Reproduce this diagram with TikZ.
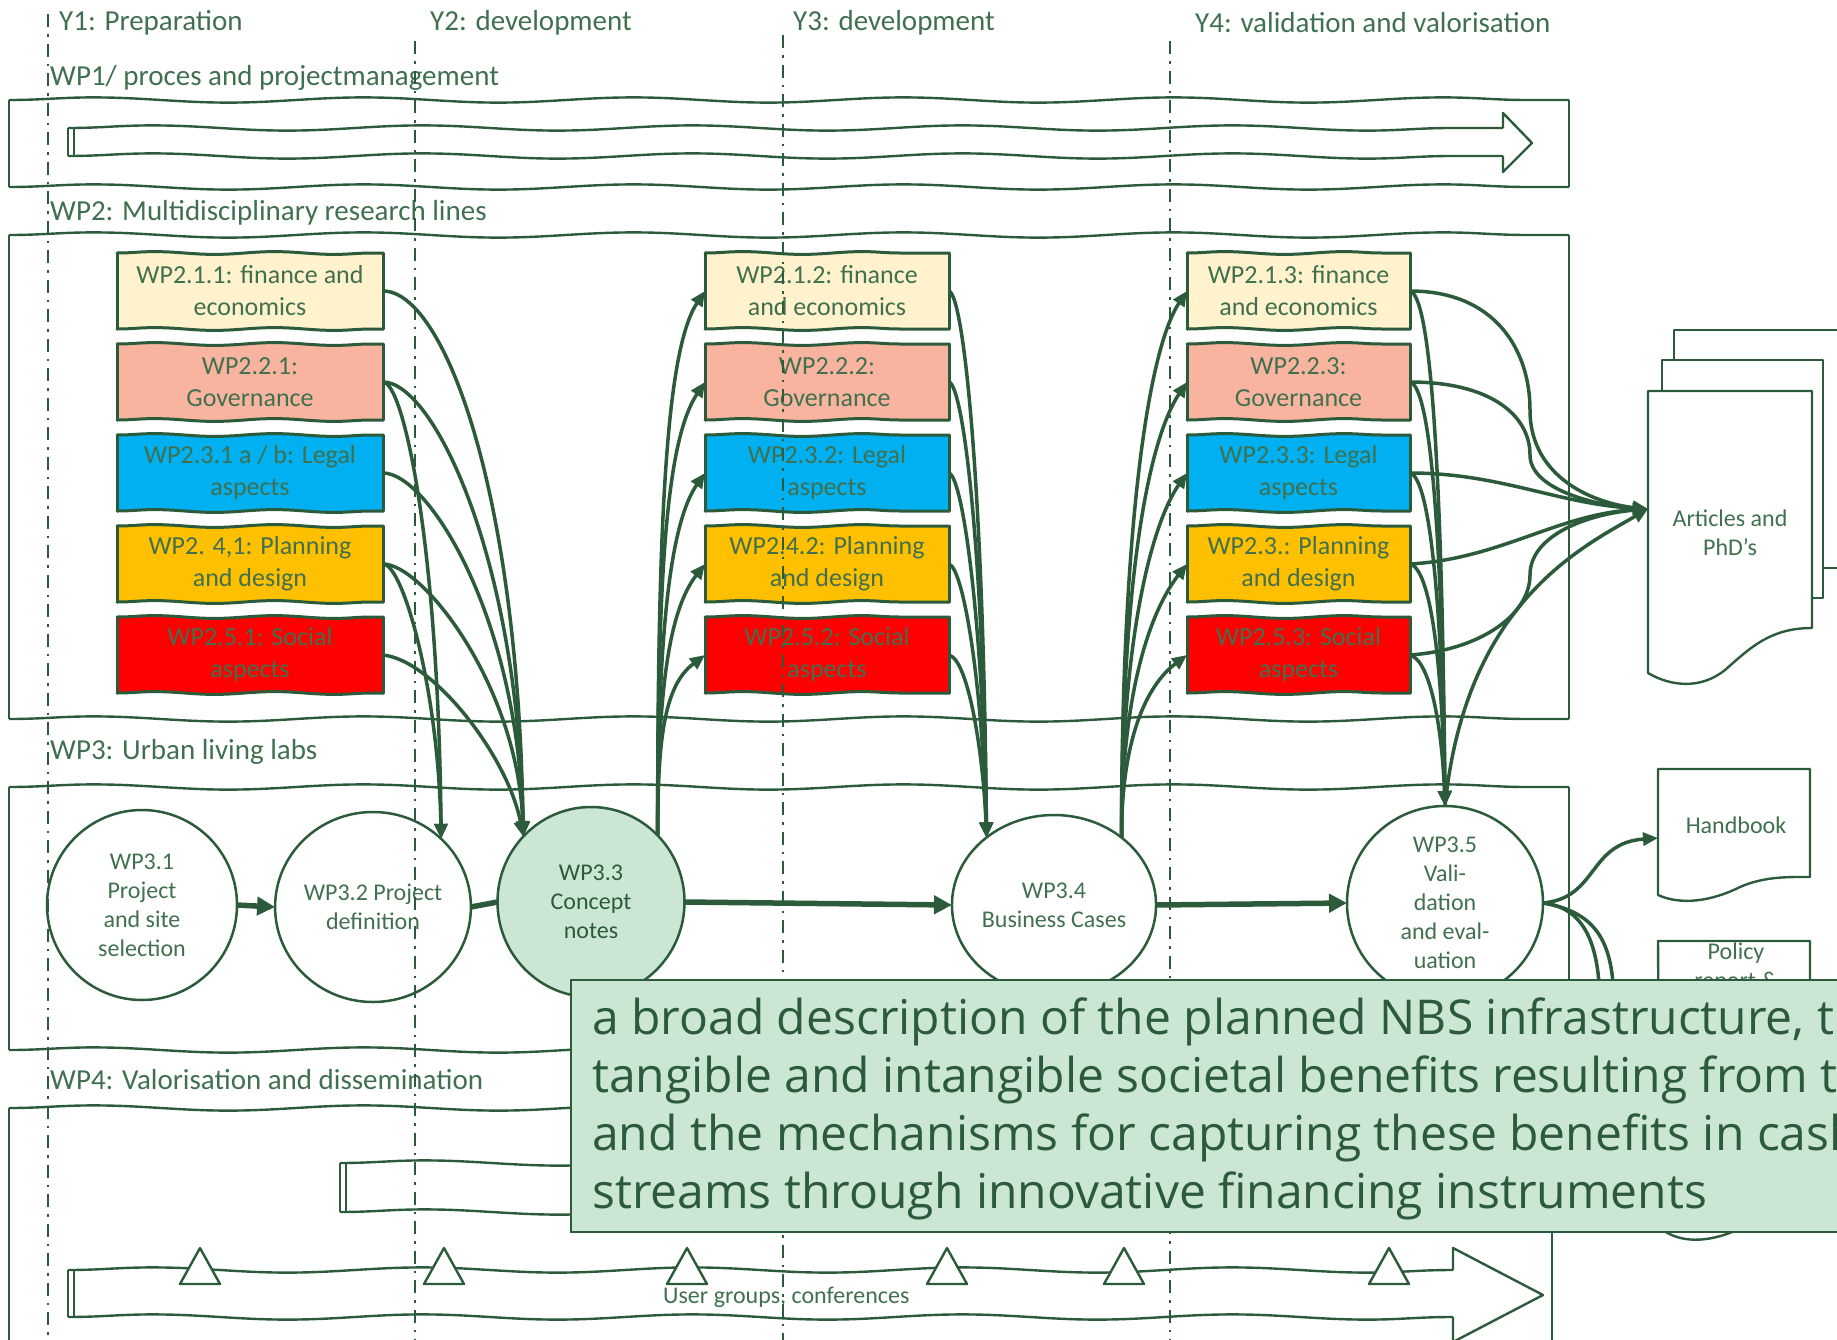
\documentclass[tikz,border=0pt]{standalone}
\usepackage{fontspec}
\setmainfont{Carlito}
\newfontfamily\osans{Open Sans}
\usetikzlibrary{arrows.meta,decorations.pathmorphing,shapes.geometric}
\definecolor{dg}{HTML}{2B5B3A}
\definecolor{txt}{HTML}{40704F}
\definecolor{lg}{HTML}{CCE6D4}
\definecolor{yel}{HTML}{FFF2CC}
\definecolor{sal}{HTML}{F9B4A0}
\definecolor{blu}{HTML}{00B0F0}
\definecolor{ora}{HTML}{FFC000}
\definecolor{rd}{HTML}{FF0000}
\newcommand\fsz[2]{\fontsize{#1}{#2}\selectfont}
\tikzset{
  edge/.style={draw=dg, line width=2.4pt, line join=round},
  wavy/.style={decorate, decoration={snake, amplitude=2.6pt, segment length=270pt}},
  wavys/.style={decorate, decoration={snake, amplitude=1.4pt, segment length=120pt}},
  bedge/.style={draw=dg, line width=3pt, line cap=round},
  wpbox/.style={inner sep=0pt, outer sep=0pt, minimum height=76pt, align=center, text=txt, font=\fsz{26}{32}},
  ell/.style={ellipse, draw=dg, line width=2.5pt, inner sep=0pt, outer sep=0pt, minimum width=190pt, minimum height=190pt, align=center, text=txt, font=\fsz{24}{29}},
  con/.style={draw=dg, line width=3.5pt, -{Triangle[length=15pt,width=13pt]}},
  conn/.style={draw=dg, line width=3.5pt},
  thickarr/.style={draw=dg, line width=5.5pt, -{Triangle[length=18pt,width=18pt]}},
  divider/.style={draw=dg, line width=2pt, dash pattern=on 13pt off 7pt on 2.5pt off 7pt},
  lbl/.style={anchor=west, inner sep=0pt, text=txt, font=\fsz{29}{34}},
  doclbl/.style={inner sep=0pt, align=center, text=txt, font=\fsz{24}{29}},
  desc/.style={anchor=base west, inner sep=0pt, text=dg, font=\osans\fsz{48}{58}},
}
\newcommand\sketchrect[4]{%
  \draw[edge,wavy] (#1,#2) -- (#3,#2);
  \draw[edge,wavy] (#1,#4) -- (#3,#4);
  \draw[edge] (#1,#2) -- (#1,#4);
  \draw[edge] (#3,#2) -- (#3,#4);}
\newcommand\boxborder[1]{%
  \draw[bedge,wavys] (#1.north west) -- (#1.north east);
  \draw[bedge,wavys] (#1.south west) -- (#1.south east);
  \draw[bedge] (#1.north west) -- (#1.south west);
  \draw[bedge] (#1.north east) -- (#1.south east);}
\begin{document}
\begin{tikzpicture}[x=1pt,y=-1pt]
\useasboundingbox (0,0) rectangle (1837,1339);
\clip (0,0) rectangle (1837,1339);

% ---------- labels ----------
\node[lbl] (y1) at (59,23) {Y1: Preparation};
\node[lbl] (y2) at (430,23) {Y2: development};
\node[lbl] (y3) at (793,23) {Y3: development};
\node[lbl] (y4) at (1195,23) {Y4: validation and valorisation};
\node[lbl] (l1) at (50,78) {WP1/ proces and projectmanagement};
\node[lbl] (l2) at (50,213) {WP2: Multidisciplinary research lines};
\node[lbl] (l3) at (50,752) {WP3: Urban living labs};
\node[lbl] (l4) at (50,1080) {WP4: Valorisation and dissemination};

% ---------- bands ----------
\sketchrect{9}{100}{1569}{187}
\sketchrect{9}{235}{1569}{719}
\sketchrect{9}{787}{1569}{1050}
\sketchrect{9}{1108}{1552}{1365}

% ---------- WP1 arrow ----------
\draw[edge,wavy] (68,128) -- (1503,128);
\draw[edge,wavy] (68,156) -- (1503,156);
\draw[edge] (1503,128) -- (1503,113) -- (1532,143) -- (1503,172) -- (1503,156);
\draw[edge] (68,128) -- (68,156) (74,128) -- (74,156);

% ---------- WP4 arrows ----------
\draw[edge,wavy] (340,1163) -- (900,1163);
\draw[edge,wavy] (340,1212) -- (900,1212);
\draw[edge] (340,1163) -- (340,1212) (346,1163) -- (346,1212);
\draw[edge,wavy] (68,1270) -- (1453,1270);
\draw[edge,wavy] (68,1317) -- (1453,1317);
\draw[edge] (1453,1270) -- (1453,1248) -- (1543,1295) -- (1453,1342) -- (1453,1317);
\draw[edge] (68,1270) -- (68,1317) (74,1270) -- (74,1317);
\foreach \x in {200,444,687,947,1124,1389}
  \draw[edge, fill=white] (\x,1248) -- (\x+20,1284) -- (\x-20,1284) -- cycle;
\node[anchor=west, inner sep=0pt, text=txt, font=\fsz{24}{29}] (ug) at (663,1297) {User groups, conferences};

% ---------- WP2 boxes ----------
\node[wpbox, fill=yel, minimum width=266pt] (a1) at (250,291) {WP2.1.1: finance and\\economics};
\node[wpbox, fill=sal, minimum width=266pt] (a2) at (250,382) {WP2.2.1:\\Governance};
\node[wpbox, fill=blu, minimum width=266pt] (a3) at (250,473) {WP2.3.1 a / b: Legal\\aspects};
\node[wpbox, fill=ora, minimum width=266pt] (a4) at (250,564) {WP2. 4,1: Planning\\and design};
\node[wpbox, fill=rd,  minimum width=266pt] (a5) at (250,655) {WP2.5.1: Social\\aspects};
\node[wpbox, fill=yel, minimum width=244pt] (b1) at (827,291) {WP2.1.2: finance\\and economics};
\node[wpbox, fill=sal, minimum width=244pt] (b2) at (827,382) {WP2.2.2:\\Governance};
\node[wpbox, fill=blu, minimum width=244pt] (b3) at (827,473) {WP2.3.2: Legal\\aspects};
\node[wpbox, fill=ora, minimum width=244pt] (b4) at (827,564) {WP2.4.2: Planning\\and design};
\node[wpbox, fill=rd,  minimum width=244pt] (b5) at (827,655) {WP2.5.2: Social\\aspects};
\node[wpbox, fill=yel, minimum width=223pt] (c1) at (1298.5,291) {WP2.1.3: finance\\and economics};
\node[wpbox, fill=sal, minimum width=223pt] (c2) at (1298.5,382) {WP2.2.3:\\Governance};
\node[wpbox, fill=blu, minimum width=223pt] (c3) at (1298.5,473) {WP2.3.3: Legal\\aspects};
\node[wpbox, fill=ora, minimum width=223pt] (c4) at (1298.5,564) {WP2.3.: Planning\\and design};
\node[wpbox, fill=rd,  minimum width=223pt] (c5) at (1298.5,655) {WP2.5.3: Social\\aspects};
\foreach \n in {a1,a2,a3,a4,a5,b1,b2,b3,b4,b5,c1,c2,c3,c4,c5} {\boxborder{\n}}

% ---------- documents ----------
\draw[edge, fill=white] (1674,330) -- (1850,330) -- (1850,568) -- (1674,568) -- cycle;
\draw[edge, fill=white] (1662,360) -- (1823,360) -- (1823,598) -- (1662,598) -- cycle;
\draw[edge, fill=white] (1648,391) -- (1812,391) -- (1812,628) .. controls (1770,628) and (1750,648) .. (1725,670) .. controls (1700,690) and (1670,686) .. (1648,673) -- cycle;
\node[doclbl] (art) at (1730,533) {Articles and\\PhD’s};
\coordinate (artin) at (1648,509);
\draw[edge, fill=white] (1658,769) -- (1810,769) -- (1810,877) .. controls (1790,877) and (1765,876) .. (1740,887) .. controls (1710,902) and (1680,905) .. (1658,895) -- cycle;
\node[doclbl] (hb) at (1736,825) {Handbook};
\coordinate (hbin) at (1658,838);
\draw[edge, fill=white] (1658,941) -- (1810,941) -- (1810,1205) .. controls (1790,1205) and (1765,1215) .. (1737,1230) .. controls (1700,1246) and (1675,1240) .. (1660,1228) -- cycle;
\node[doclbl] (pol) at (1736,968) {Policy\\report \&};
\coordinate (pA) at (1600,1010);
\coordinate (pB) at (1614,1010);

% ---------- WP3 ellipses ----------
\node[ell] (e1) at (142,905) {WP3.1\\Project\\and site\\selection};
\node[ell] (e2) at (373,907) {WP3.2 Project\\definition};
\node[ell, fill=lg, text=dg, minimum width=187pt] (e3) at (591,902) {WP3.3\\Concept\\notes};
\node[ell, minimum width=188pt, minimum height=180pt] (e4) at (1054,905) {WP3.4\\Business Cases};
\node[ell, minimum width=196pt, minimum height=194pt] (e5) at (1445,903) {WP3.5\\Vali-\\dation\\and eval-\\uation};

\draw[thickarr] (e1.east) -- (e2.west);
\draw[draw=dg, line width=5.5pt] (e2.east) -- (e3.west);
\draw[thickarr] (e3.east) -- (e4.west);
\draw[thickarr] (e4.east) -- (e5.west);

% ---------- connectors col1 ----------
\draw[con] (a1.east) .. controls +(60,0) and +(-5,-350) .. (e3.136);
\draw[con] (a2.east) .. controls +(50,0) and +(-5,-280) .. (e3.136);
\draw[con] (a3.east) .. controls +(45,0) and +(-5,-220) .. (e3.136);
\draw[con] (a4.east) .. controls +(40,0) and +(-5,-150) .. (e3.136);
\draw[con] (a5.east) .. controls +(50,5) and +(-15,-80) .. (e3.136);
\draw[con] (a2.east) .. controls +(20,0) and +(-3,-300) .. (e2.45);
\draw[con] (a4.east) .. controls +(20,0) and +(-3,-150) .. (e2.45);

% ---------- WP3.3 -> col2 ----------
\draw[con] (e3.45) .. controls +(0,-300) and +(-40,60) .. (b1.west);
\draw[con] (e3.45) .. controls +(0,-250) and +(-40,60) .. (b2.west);
\draw[con] (e3.45) .. controls +(0,-200) and +(-35,50) .. (b3.west);
\draw[con] (e3.45) .. controls +(0,-150) and +(-35,45) .. (b4.west);
\draw[con] (e3.45) .. controls +(0,-100) and +(-40,30) .. (b5.west);

% ---------- col2 -> WP3.4 ----------
\draw[con] (b1.east) .. controls +(15,5) and +(-3,-350) .. (e4.135);
\draw[con] (b2.east) .. controls +(15,5) and +(-3,-280) .. (e4.135);
\draw[con] (b3.east) .. controls +(15,5) and +(-3,-200) .. (e4.135);
\draw[con] (b4.east) .. controls +(15,5) and +(-4,-150) .. (e4.135);
\draw[con] (b5.east) .. controls +(20,5) and +(-3,-80) .. (e4.135);

% ---------- WP3.4 -> col3 ----------
\draw[con] (e4.45) .. controls +(0,-300) and +(-40,60) .. (c1.west);
\draw[con] (e4.45) .. controls +(0,-250) and +(-40,60) .. (c2.west);
\draw[con] (e4.45) .. controls +(0,-200) and +(-35,50) .. (c3.west);
\draw[con] (e4.45) .. controls +(0,-150) and +(-35,45) .. (c4.west);
\draw[con] (e4.45) .. controls +(0,-100) and +(-40,30) .. (c5.west);

% ---------- col3 -> WP3.5 ----------
\draw[con] (c1.east) .. controls +(20,5) and +(-3,-350) .. (e5.north);
\draw[con] (c2.east) .. controls +(20,5) and +(-3,-280) .. (e5.north);
\draw[con] (c3.east) .. controls +(20,5) and +(-3,-200) .. (e5.north);
\draw[con] (c4.east) .. controls +(20,5) and +(-3,-150) .. (e5.north);
\draw[con] (c5.east) .. controls +(20,5) and +(-3,-80) .. (e5.north);

% ---------- col3 -> articles ----------
\draw[con] (c1.east) .. controls +(85,0) and +(0,-60) .. (1530,410) .. controls +(0,70) and +(-50,-5) .. (artin);
\draw[con] (c2.east) .. controls +(80,0) and +(0,-40) .. (1530,455) .. controls +(0,35) and +(-50,-3) .. (artin);
\draw[con] (c3.east) .. controls +(90,0) and +(-90,-5) .. (artin);
\draw[con] (c4.east) .. controls +(90,-5) and +(-90,5) .. (artin);
\draw[con] (c5.east) .. controls +(70,-5) and +(0,40) .. (1530,575) .. controls +(0,-40) and +(-60,5) .. (artin);
\draw[con] (e5.north) .. controls +(20,-200) and +(-70,40) .. (artin);

% ---------- WP3.5 -> outputs ----------
\draw[con] (e5.east) .. controls +(55,-5) and +(-70,5) .. (hbin);
\draw[conn] (e5.east) .. controls +(45,5) and +(0,-60) .. (pA);
\draw[conn] (e5.east) .. controls +(60,10) and +(0,-60) .. (pB);

% ---------- year dividers ----------
\draw[divider] (48,14) -- (48,1345);
\draw[divider] (415,41) -- (415,1345);
\draw[divider] (783,35) -- (783,1345);
\draw[divider] (1170,41) -- (1170,1345);

% ---------- description box ----------
\draw[draw=dg, fill=lg, line width=2pt] (571,980) rectangle (1870,1232);
\node[desc] (d1) at (592,1034) {a broad description of the planned NBS infrastructure, th};
\node[desc] (d2) at (592,1092) {tangible and intangible societal benefits resulting from t};
\node[desc] (d3) at (592,1150) {and the mechanisms for capturing these benefits in cash};
\node[desc] (d4) at (592,1208) {streams through innovative financing instruments};
\end{tikzpicture}
\end{document}
